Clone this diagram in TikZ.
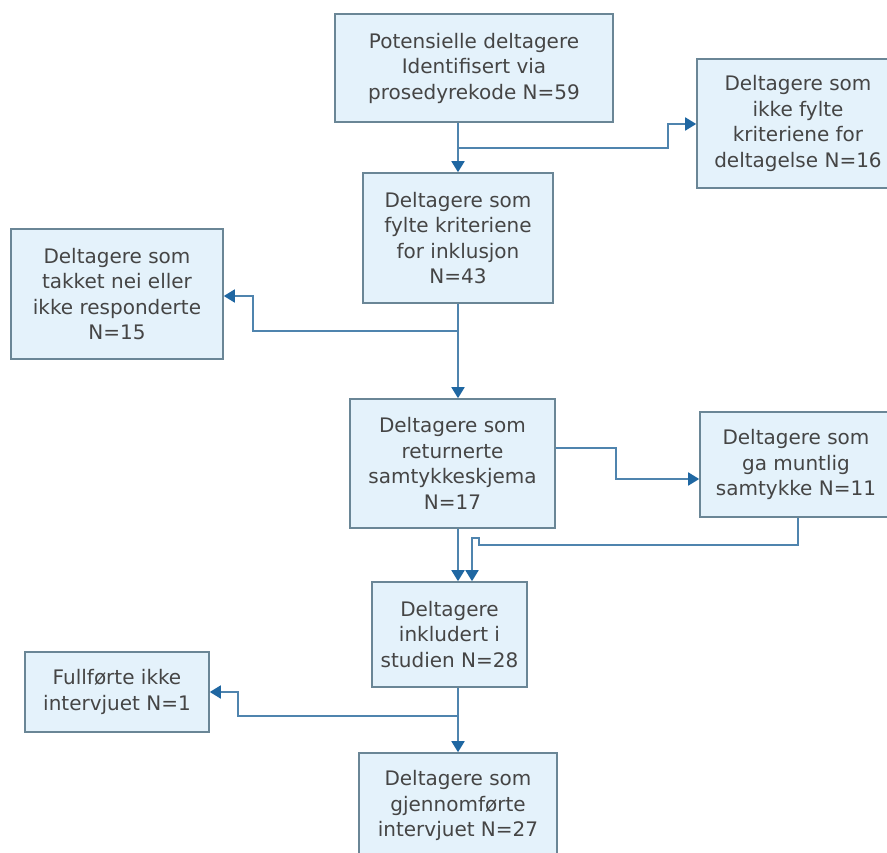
\documentclass[tikz,border=0pt]{standalone}
\usepackage{fontspec}
\setmainfont{DejaVu Sans}
\usetikzlibrary{arrows.meta,calc}
\definecolor{boxfill}{HTML}{E4F2FB}
\definecolor{boxline}{HTML}{6A8696}
\definecolor{linec}{HTML}{4F84AE}
\definecolor{arrowc}{HTML}{1F67A2}
\definecolor{txt}{HTML}{454545}
\tikzset{
  flowbox/.style={draw=boxline, fill=boxfill, line width=1.6pt, inner sep=0pt, align=center,
    text=txt, font=\fontsize{20}{25.5}\selectfont},
  conn/.style={draw=linec, line width=1.8pt},
  arr/.style={conn, -{Triangle[width=13pt,length=11pt,color=arrowc,fill=arrowc]}}
}
\begin{document}
\begin{tikzpicture}[x=1pt,y=-1pt]
\useasboundingbox (0,0) rectangle (887,853);
\clip (0,0) rectangle (887,853);
\fill[white] (0,0) rectangle (887,853);
\coordinate (sp) at (458,0);
\node[flowbox, minimum width=278pt, minimum height=108pt] (b1) at (474,68)
  {Potensielle deltagere\\Identifisert via\\prosedyrekode N=59};
\node[flowbox, minimum width=202pt, minimum height=129pt] (b2) at (798,123.5)
  {Deltagere som\\ikke fylte\\kriteriene for\\deltagelse N=16};
\node[flowbox, minimum width=190pt, minimum height=130pt] (b3) at (458,238)
  {Deltagere som\\fylte kriteriene\\for inklusjon\\N=43};
\node[flowbox, minimum width=212pt, minimum height=130pt] (b4) at (117,294)
  {Deltagere som\\takket nei eller\\ikke responderte\\N=15};
\node[flowbox, minimum width=205pt, minimum height=129pt] (b5) at (452.5,463.5)
  {Deltagere som\\returnerte\\samtykkeskjema\\N=17};
\node[flowbox, minimum width=192pt, minimum height=105pt] (b6) at (796,464.5)
  {Deltagere som\\ga muntlig\\samtykke N=11};
\node[flowbox, minimum width=155pt, minimum height=105pt] (b7) at (449.5,634.5)
  {Deltagere\\inkludert i\\studien N=28};
\node[flowbox, minimum width=184pt, minimum height=80pt] (b8) at (117,692)
  {Fullførte ikke\\intervjuet N=1};
\node[flowbox, minimum width=198pt, minimum height=105pt] (b9) at (458,805.5)
  {Deltagere som\\gjennomførte\\intervjuet N=27};
% connectors
\draw[arr] (b1.south -| sp) -- (b3.north -| sp);
\coordinate (j1) at (458,148);
\coordinate (k1) at (668,148);
\draw[arr] (j1) -- (k1) |- (b2.west |- 0,124);
\draw[arr] (b3.south -| sp) -- (b5.north -| sp);
\coordinate (j2) at (458,331);
\coordinate (k2) at (253,331);
\draw[arr] (j2) -- (k2) |- (b4.east |- 0,296);
\coordinate (j3) at (b5.east |- 0,448);
\coordinate (k3) at (616,448);
\draw[arr] (j3) -- (k3) |- (b6.west |- 0,479);
\draw[arr] (b5.south -| sp) -- (b7.north -| sp);
\coordinate (m1) at (798,545);
\coordinate (m2) at (479,545);
\coordinate (m3) at (479,538);
\coordinate (m4) at (472,538);
\draw[arr] (b6.south -| m1) -- (m1) -- (m2) -- (m3) -- (m4) -- (b7.north -| m4);
\draw[arr] (b7.south -| sp) -- (b9.north -| sp);
\coordinate (j4) at (458,716);
\coordinate (k4) at (238,716);
\draw[arr] (j4) -- (k4) |- (b8.east |- 0,692);
\end{tikzpicture}
\end{document}
